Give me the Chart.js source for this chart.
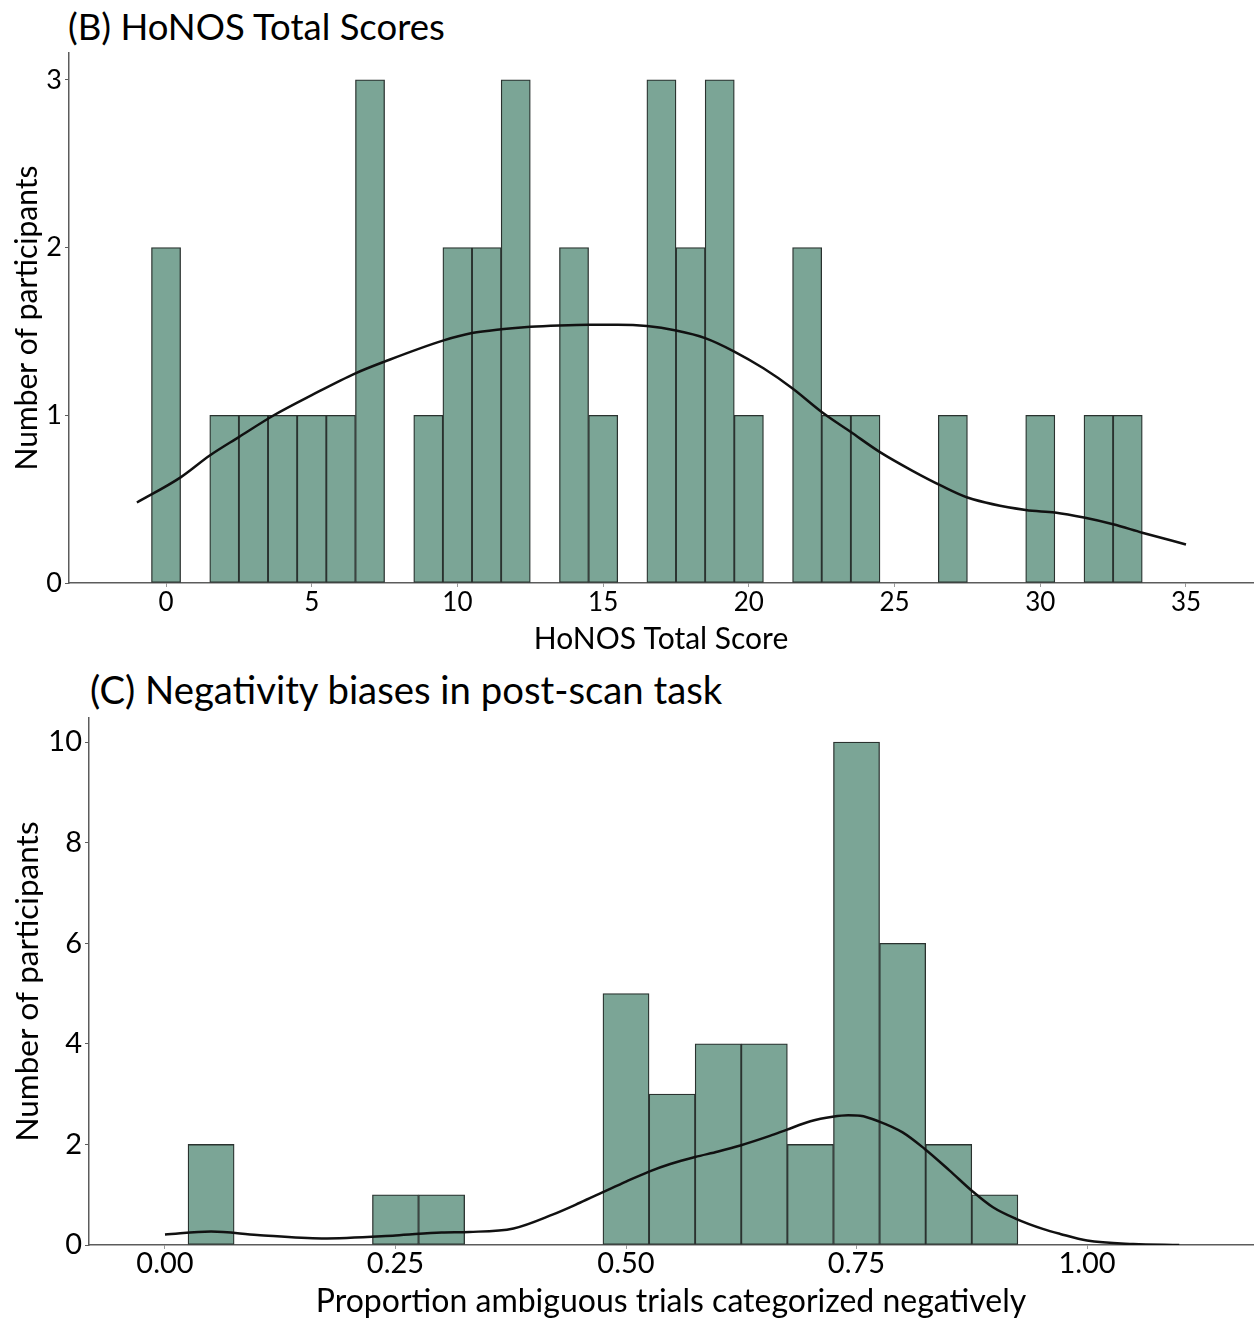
<!DOCTYPE html>
<html>
<head>
<meta charset="utf-8">
<script src="https://cdn.jsdelivr.net/npm/chart.js@4.4.1/dist/chart.umd.min.js"></script>
<style>
  html, body { margin: 0; padding: 0; background: #fff; }
  body { width: 1255px; height: 1322px; position: relative; overflow: hidden; font-family: Lato, sans-serif; }
  .ttl { position: absolute; color: #000; white-space: nowrap; line-height: 1; }
  #ttlB { left: 68px; top: 8px; font-size: 36.5px; }
  #ttlC { left: 90px; top: 670px; font-size: 38.3px; }
  canvas { position: absolute; left: 0; }
  #honos { top: 0; }
  #bias { top: 650px; }
</style>
</head>
<body>
<div class="ttl" id="ttlB">(B) HoNOS Total Scores</div>
<div class="ttl" id="ttlC">(C) Negativity biases in post-scan task</div>
<canvas id="honos" width="1255" height="660"></canvas>
<canvas id="bias" width="1255" height="672"></canvas>
<script>
// HoNOS totals: one bin per score
const honosScores = [0, 2, 3, 4, 5, 6, 7, 9, 10, 11, 12, 14, 15, 17, 18, 19, 20, 22, 23, 24, 27, 30, 32, 33];
const honosCounts = [2, 1, 1, 1, 1, 1, 3, 1, 2, 2, 3, 2, 1, 3, 2, 3, 1, 2, 1, 1, 1, 1, 1, 1];
const honosKdeX = [-1, 0.5, 1.5, 2.5, 3.7, 5, 6.5, 7.5, 9.5, 10.5, 11.5, 12.5, 13.5, 14.5, 15.5, 16.5, 17.5, 18.5, 19.5, 20.5, 21.5, 22.5, 23.5, 24.5, 25.6, 26.6, 27.5, 29.5, 30.5, 31.5, 32.5, 33.5, 35];
const honosKdeY = [0.48, 0.63, 0.76, 0.87, 1.0, 1.12, 1.25, 1.32, 1.445, 1.49, 1.513, 1.528, 1.536, 1.54, 1.54, 1.532, 1.505, 1.46, 1.38, 1.28, 1.16, 1.02, 0.9, 0.78, 0.67, 0.58, 0.51, 0.435, 0.42, 0.39, 0.35, 0.3, 0.23];
const honosXTicks = [0, 5, 10, 15, 20, 25, 30, 35];
const honosYTicks = [0, 1, 2, 3];

// post-scan task: proportion negative, bins of 0.05
const biasBins = [0.05, 0.25, 0.30, 0.50, 0.55, 0.60, 0.65, 0.70, 0.75, 0.80, 0.85, 0.90];
const biasCounts = [2, 1, 1, 5, 3, 4, 4, 2, 10, 6, 2, 1];
const biasKdeX = [0.0, 0.05, 0.10, 0.17, 0.25, 0.30, 0.33, 0.378, 0.421, 0.45, 0.475, 0.50, 0.525, 0.548, 0.575, 0.60, 0.624, 0.656, 0.674, 0.70, 0.724, 0.741, 0.754, 0.774, 0.80, 0.824, 0.851, 0.875, 0.898, 0.923, 0.952, 0.971, 1.0, 1.05, 1.1];
const biasKdeY = [0.21, 0.27, 0.2, 0.13, 0.19, 0.25, 0.26, 0.33, 0.61, 0.84, 1.05, 1.26, 1.46, 1.61, 1.75, 1.86, 1.98, 2.17, 2.29, 2.46, 2.55, 2.58, 2.57, 2.46, 2.24, 1.91, 1.48, 1.08, 0.75, 0.52, 0.32, 0.22, 0.09, 0.02, 0.0];
const biasXTicks = [0, 0.25, 0.5, 0.75, 1.0];
const biasYTicks = [0, 2, 4, 6, 8, 10];

const barFill = "#7ba596";
const barEdge = "#2a322f";
const axisGrey = "#5c5c5c";
const fontFamily = "Lato, sans-serif";

function pairs(xs, ys) {
	return xs.map(function (x, i) {
		return { x: x, y: ys[i] };
	});
}

function HistData(bins, counts, kdeX, kdeY) {
	return {
		datasets: [
			{
				type: "line",
				data: pairs(kdeX, kdeY),
				borderColor: "#111",
				borderWidth: 2.5,
				pointRadius: 0,
				cubicInterpolationMode: "monotone",
				fill: false,
				order: 0,
			},
			{
				type: "bar",
				data: pairs(bins, counts),
				backgroundColor: barFill,
				borderColor: barEdge,
				borderWidth: 1.3,
				borderSkipped: false,
				barPercentage: 1,
				categoryPercentage: 1,
				order: 1,
			},
		],
	};
}

function HistScales(x, y) {
	return {
		x: {
			type: "linear",
			offset: false,
			min: x.min,
			max: x.max,
			afterBuildTicks: function (s) {
				s.ticks = x.ticks.map(function (v) { return { value: v }; });
			},
			afterFit: function (s) { s.height = 77; },
			grid: { offset: false, drawOnChartArea: false, drawTicks: true, tickLength: 4, color: "#9a9a9a" },
			border: { color: axisGrey, width: 1.5 },
			ticks: {
				color: "#000",
				padding: x.tickPad,
				maxRotation: 0,
				font: { family: fontFamily, size: x.tickSize },
				callback: x.fmt,
			},
			title: {
				display: true,
				text: x.title,
				color: "#000",
				font: { family: fontFamily, size: x.titleSize },
				padding: { top: 0, bottom: x.titlePad },
			},
		},
		y: {
			min: 0,
			max: y.max,
			afterBuildTicks: function (s) {
				s.ticks = y.ticks.map(function (v) { return { value: v }; });
			},
			afterFit: function (s) { s.width = y.width; },
			grid: { drawOnChartArea: false, drawTicks: true, tickLength: 4, color: axisGrey },
			border: { color: axisGrey, width: 1.5 },
			ticks: {
				color: "#000",
				padding: 3,
				font: { family: fontFamily, size: y.tickSize },
			},
			title: {
				display: true,
				text: "Number of participants",
				color: "#000",
				font: { family: fontFamily, size: y.titleSize },
				padding: { top: y.titlePad, bottom: 0 },
			},
		},
	};
}

function HistOptions(top, scales) {
	return {
		responsive: false,
		animation: false,
		devicePixelRatio: 1,
		layout: { padding: { top: top, right: 2, left: 0, bottom: 0 } },
		plugins: { legend: { display: false }, tooltip: { enabled: false }, title: { display: false } },
		scales: scales,
	};
}

new Chart(document.getElementById("honos"), {
	data: HistData(honosScores, honosCounts, honosKdeX, honosKdeY),
	options: HistOptions(
		53,
		HistScales(
			{ min: -3.33, max: 37.3, ticks: honosXTicks, tickSize: 26, tickPad: 0, title: "HoNOS Total Score", titleSize: 30, titlePad: 3 },
			{ max: 3.16, ticks: honosYTicks, tickSize: 27, titleSize: 30, titlePad: 9, width: 69 }
		)
	),
});

new Chart(document.getElementById("bias"), {
	data: HistData(biasBins, biasCounts, biasKdeX, biasKdeY),
	options: HistOptions(
		68,
		HistScales(
			{
				min: -0.0824, max: 1.18, ticks: biasXTicks, tickSize: 29, tickPad: -3,
				title: "Proportion ambiguous trials categorized negatively", titleSize: 32, titlePad: 1,
				fmt: function (v) { return v.toFixed(2); },
			},
			{ max: 10.48, ticks: biasYTicks, tickSize: 29, titleSize: 31.5, titlePad: 9, width: 89 }
		)
	),
});
</script>
</body>
</html>
